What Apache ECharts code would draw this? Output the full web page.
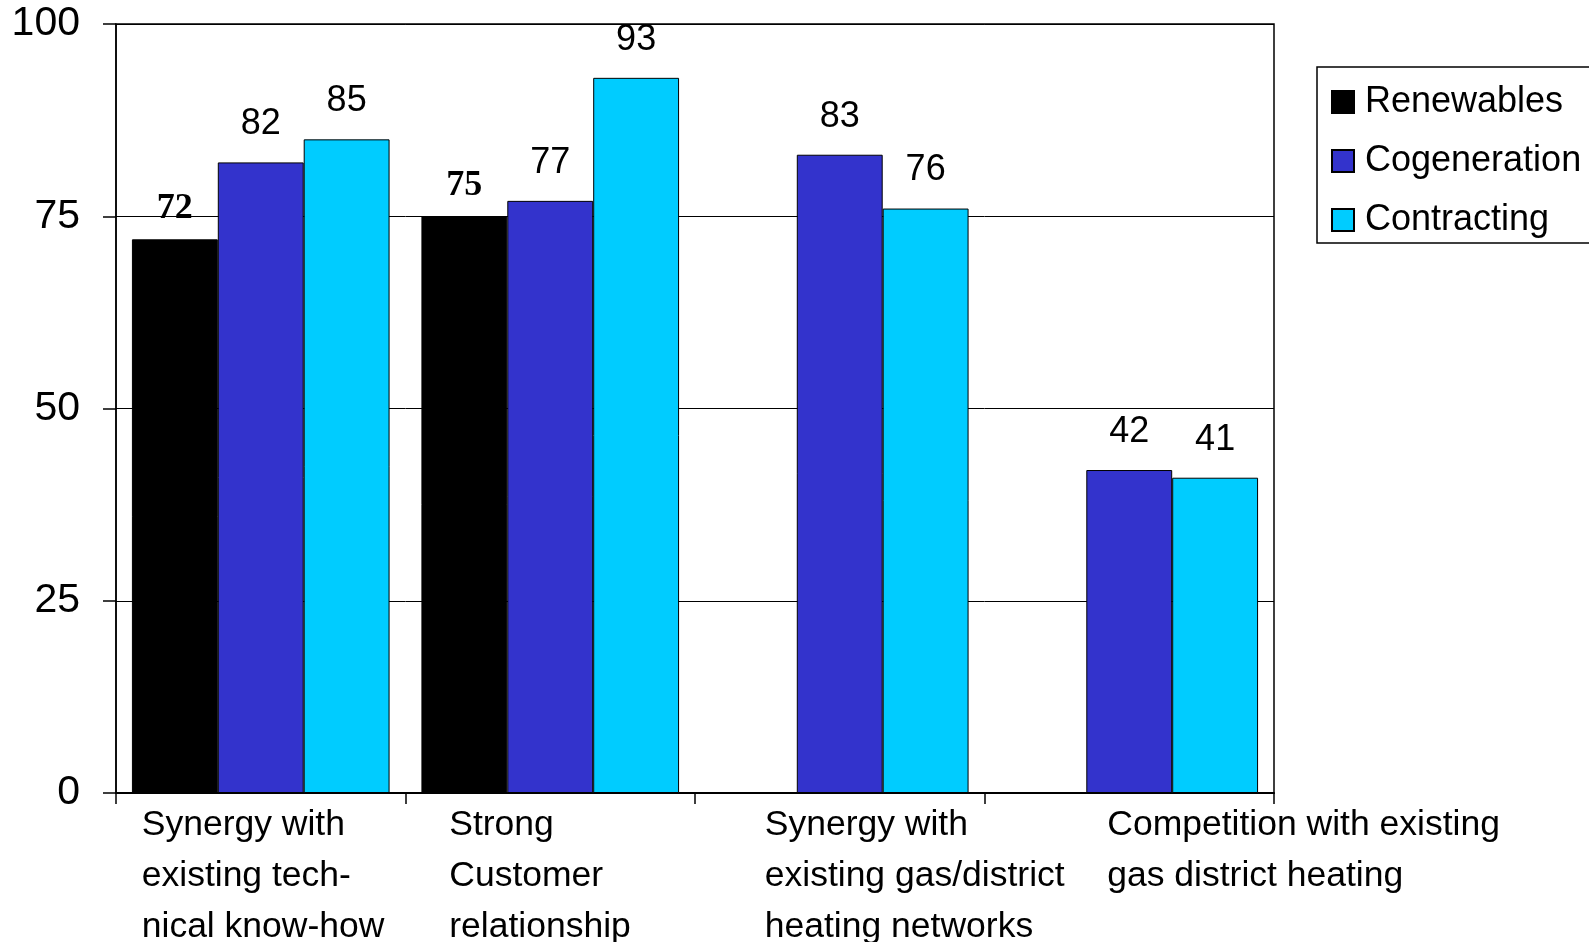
<!DOCTYPE html>
<html>
<head>
<meta charset="utf-8">
<script src="https://cdn.jsdelivr.net/npm/echarts@6/dist/echarts.min.js"></script>
<style>
    html, body { margin: 0; padding: 0; background: #fff; }
    #chart { width: 1589px; height: 942px; }
</style>
</head>
<body>
<div id="chart"></div>
<script>
// categories and values
const categories = [
    'Synergy with\nexisting tech-\nnical know-how',
    'Strong\nCustomer\nrelationship',
    'Synergy with\nexisting gas/district\nheating networks',
    'Competition with existing\ngas district heating'
];
const renewables = [72, 75, null, null];
const cogeneration = [82, 77, 83, 42];
const contracting = [85, 93, 76, 41];
const yTicks = [0, 25, 50, 75, 100];

// where each category label starts, relative to the category centre (px)
const labelShift = [-119, -101, -75, -22];

const sans = '"Liberation Sans", Arial, sans-serif';
const serif = '"Liberation Serif", "Times New Roman", serif';

const chart = echarts.init(document.getElementById('chart'));

const barLabel = {
    show: true,
    position: 'top',
    distance: 20,
    color: '#000',
    fontFamily: sans,
    fontSize: 36
};

const option = {
    animation: false,
    grid: {
        left: 116,
        top: 24,
        right: 315,
        bottom: 149,
        show: true,
        borderColor: '#000',
        borderWidth: 1.5
    },
    legend: {
        orient: 'vertical',
        left: 1317,
        top: 67,
        padding: [17, 9, 5, 14],
        itemGap: 23,
        itemWidth: 22,
        itemHeight: 22,
        icon: 'rect',
        borderColor: '#000',
        borderWidth: 1.5,
        textStyle: { fontFamily: sans, fontSize: 36, color: '#000', lineHeight: 35, padding: [0, 0, 0, 6] },
        data: ['Renewables', 'Cogeneration', 'Contracting']
    },
    xAxis: {
        type: 'category',
        data: categories,
        axisLine: { lineStyle: { color: '#000', width: 2 } },
        axisTick: { show: true, length: 11, lineStyle: { color: '#000', width: 1.5 } },
        axisLabel: { show: false }
    },
    yAxis: {
        type: 'value',
        min: yTicks[0],
        max: yTicks[yTicks.length - 1],
        interval: 25,
        axisLine: { show: true, lineStyle: { color: '#000', width: 1.5 } },
        axisTick: { show: true, length: 13, lineStyle: { color: '#000', width: 1.5 } },
        axisLabel: { margin: 36, color: '#000', fontFamily: sans, fontSize: 41 },
        splitLine: { lineStyle: { color: '#000', width: 1 } }
    },
    series: [
        {
            name: 'Renewables',
            type: 'bar',
            data: renewables,
            barGap: '0%',
            barCategoryGap: '11%',
            itemStyle: { color: '#000000', borderColor: '#000', borderWidth: 1 },
            label: Object.assign({}, barLabel, { fontFamily: serif, fontWeight: 'bold', fontSize: 36, distance: 13 })
        },
        {
            name: 'Cogeneration',
            type: 'bar',
            data: cogeneration,
            barGap: '0%',
            barCategoryGap: '11%',
            itemStyle: { color: '#3333CC', borderColor: '#000', borderWidth: 1 },
            label: barLabel
        },
        {
            name: 'Contracting',
            type: 'bar',
            data: contracting,
            barGap: '0%',
            barCategoryGap: '11%',
            itemStyle: { color: '#00CCFF', borderColor: '#000', borderWidth: 1 },
            label: barLabel
        }
    ]
};

chart.setOption(option);

// category labels, left aligned and placed off the axis scale
const labelTop = chart.convertToPixel({ yAxisIndex: 0 }, 0) + 7;
chart.setOption({
    graphic: categories.map((name, i) => ({
        type: 'text',
        x: chart.convertToPixel({ xAxisIndex: 0 }, i) + labelShift[i],
        y: labelTop,
        style: {
            text: name,
            fill: '#000',
            font: '35.5px ' + sans,
            lineHeight: 51,
            textAlign: 'left',
            textVerticalAlign: 'top'
        }
    }))
});
</script>
</body>
</html>
